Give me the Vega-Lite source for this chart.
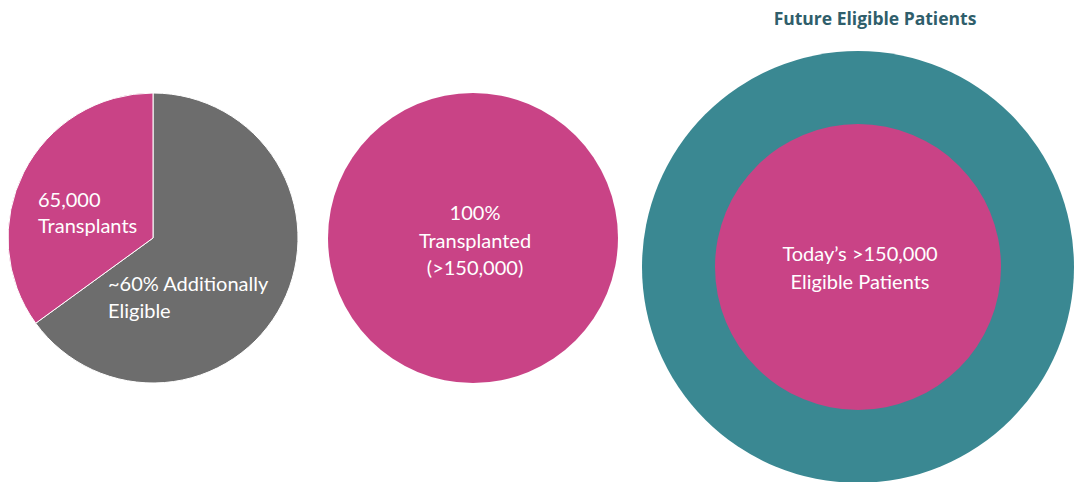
{
  "$schema": "https://vega.github.io/schema/vega-lite/v6.json",
  "padding": {"top": 10, "left": 0, "right": 0, "bottom": 0},
  "spacing": 22,
  "background": "white",
  "config": {"view": {"stroke": null}, "font": "Lato"},
  "datasets": {
    "today": [
      {"group": "Additionally eligible", "label": "~60% Additionally\nEligible", "value": 65, "order": 1},
      {"group": "Transplanted", "label": "65,000\nTransplants", "value": 35, "order": 2}
    ],
    "all": [
      {"group": "Transplanted", "label": "100%\nTransplanted\n(>150,000)", "value": 100, "order": 1}
    ],
    "future": [
      {"group": "Future eligible", "label": "", "value": 100, "order": 1},
      {"group": "Transplanted", "label": "Today’s >150,000\nEligible Patients", "value": 100, "order": 1}
    ]
  },
  "resolve": {"scale": {"color": "shared", "theta": "independent"}},
  "hconcat": [
    {
      "width": 306,
      "height": 374,
      "data": {"name": "today"},
      "layer": [
        {
          "mark": {"type": "arc", "outerRadius": 145, "stroke": "white", "strokeWidth": 1},
          "encoding": {
            "theta": {"field": "value", "type": "quantitative", "stack": true},
            "order": {"field": "order", "type": "quantitative"},
            "color": {"field": "group", "type": "nominal", "legend": null,
              "scale": {"domain": ["Transplanted", "Additionally eligible", "Future eligible"], "range": ["#C94386", "#6D6D6D", "#3A8892"]}}
          }
        },
        {
          "transform": [{"filter": "datum.group == 'Transplanted'"}],
          "mark": {"type": "text", "align": "left", "baseline": "middle", "lineBreak": "\n", "lineHeight": 26, "fontSize": 20, "color": "white", "dx": -115, "dy": -37},
          "encoding": {"text": {"field": "label", "type": "nominal"}}
        },
        {
          "transform": [{"filter": "datum.group == 'Additionally eligible'"}],
          "mark": {"type": "text", "align": "left", "baseline": "middle", "lineBreak": "\n", "lineHeight": 27, "fontSize": 20, "color": "white", "dx": -45, "dy": 47},
          "encoding": {"text": {"field": "label", "type": "nominal"}}
        }
      ]
    },
    {
      "width": 290,
      "height": 374,
      "data": {"name": "all"},
      "layer": [
        {
          "mark": {"type": "arc", "outerRadius": 145},
          "encoding": {
            "theta": {"field": "value", "type": "quantitative", "stack": true},
            "color": {"field": "group", "type": "nominal", "legend": null}
          }
        },
        {
          "mark": {"type": "text", "align": "center", "baseline": "middle", "lineBreak": "\n", "lineHeight": 27.5, "fontSize": 20, "color": "white", "dx": 2, "dy": -24},
          "encoding": {"text": {"field": "label", "type": "nominal"}}
        }
      ]
    },
    {
      "width": 436,
      "height": 432,
      "title": {"text": "Future Eligible Patients", "fontSize": 17.5, "fontWeight": "bold", "font": "Open Sans", "color": "#2F5E6B", "anchor": "middle", "dx": 17, "offset": 23},
      "data": {"name": "future"},
      "layer": [
        {
          "transform": [{"filter": "datum.group == 'Future eligible'"}],
          "mark": {"type": "arc", "outerRadius": 216},
          "encoding": {
            "theta": {"field": "value", "type": "quantitative", "stack": true},
            "color": {"field": "group", "type": "nominal", "legend": null}
          }
        },
        {
          "transform": [{"filter": "datum.group == 'Transplanted'"}],
          "mark": {"type": "arc", "outerRadius": 143},
          "encoding": {
            "theta": {"field": "value", "type": "quantitative", "stack": true},
            "color": {"field": "group", "type": "nominal", "legend": null}
          }
        },
        {
          "transform": [{"filter": "datum.group == 'Transplanted'"}],
          "mark": {"type": "text", "align": "center", "baseline": "middle", "lineBreak": "\n", "lineHeight": 28, "fontSize": 20, "color": "white", "dx": 2, "dy": -12},
          "encoding": {"text": {"field": "label", "type": "nominal"}}
        }
      ]
    }
  ]
}
